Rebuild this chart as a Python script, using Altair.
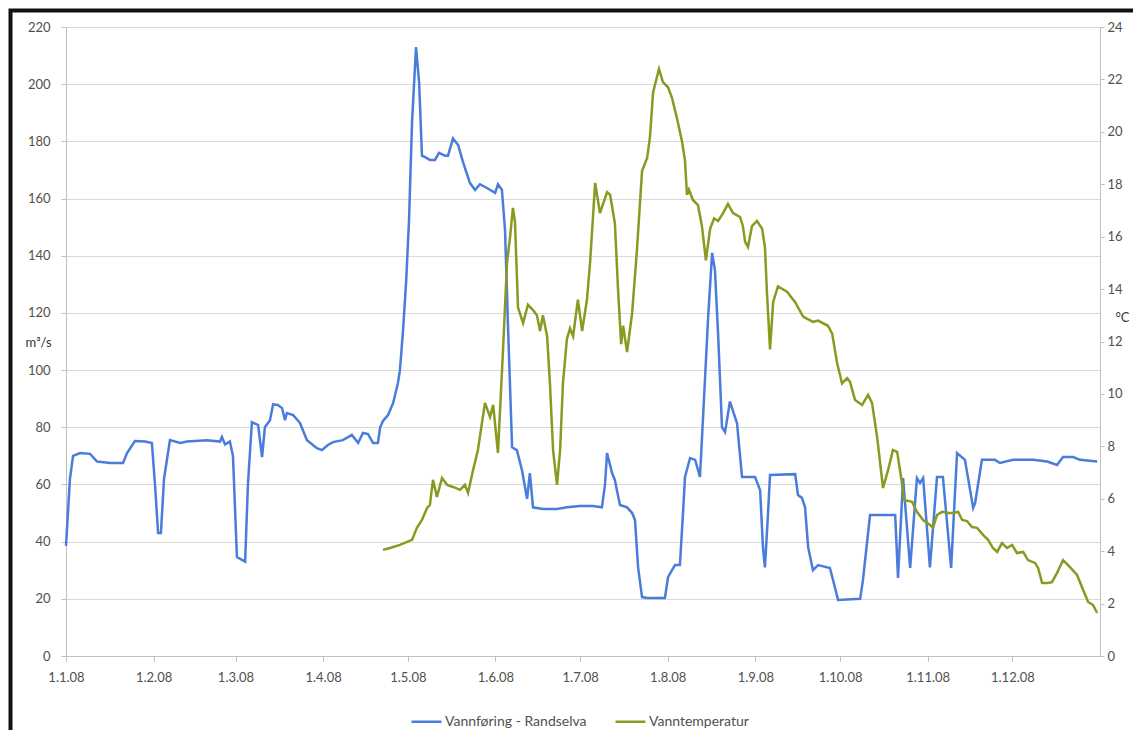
import altair as alt
import pandas as pd

FLOW_NAME = "Vannføring - Randselva"
TEMP_NAME = "Vanntemperatur"

# day offsets from 1 Jan 2008 and discharge (m3/s)
flow_day = [0, 1.4, 2.5, 5, 8.5, 11, 15.6, 20.2, 21.6, 24.4,
            28, 30.4, 31.5, 32.6, 33.6, 34.7, 36.8, 40.4, 42.8, 49.9,
            54.5, 55.2, 56.3, 58, 59.1, 60.5, 63.4, 64.4, 65.8, 68,
            69.4, 70.4, 72.2, 73.3, 75, 76.5, 77.5, 78.2, 80.4, 82.8,
            85.3, 88.8, 90.6, 92.7, 94.5, 98, 101.2, 103.4, 105.1, 106.9,
            108.7, 110.4, 111.2, 112.2, 114, 115.8, 117.5, 118.2, 119.3, 120.4,
            121.4, 122.5, 123.9, 125, 126, 127.1, 128.8, 130.6, 132, 134.2,
            135.2, 137, 138.8, 140.5, 143, 144.8, 146.5, 149, 151.9, 152.9,
            154.3, 155.4, 156.5, 157.9, 159.6, 161.4, 163.2, 164.2, 165.3, 168.8,
            173.8, 177.3, 181.9, 186.5, 189.7, 190.8, 191.5, 193.3, 194.3, 195,
            196.1, 198.6, 200.4, 201.4, 202.5, 203.9, 205.7, 212, 213.1, 214.5,
            215.6, 217.3, 218.4, 219.1, 220.9, 222.7, 224.4, 225.5, 227.3, 228.7,
            229.7, 230.8, 232.2, 233.3, 235, 237.5, 239.3, 243.9, 245.7, 246.7,
            247.4, 248.5, 249.2, 258.1, 259.1, 260.5, 261.6, 262.7, 264.4, 266.2,
            270.4, 271.5, 273.3, 281.1, 282.1, 284.6, 293.5, 294.5, 296.3, 298.8,
            301.2, 302.3, 303.4, 305.8, 308.3, 310.4, 313.3, 315.4, 318.2, 321.1,
            321.8, 324.2, 328.8, 330.6, 335.2, 342.3, 347.3, 350.8, 352.9, 356.5,
            358.9, 365]
flow_val = [38.5, 62, 70, 71, 70.7, 68, 67.5, 67.5, 71, 75.2,
            75, 74.5, 60, 43, 43, 62, 75.5, 74.5, 75, 75.5,
            75, 76.6, 74, 75, 70, 34.6, 33, 60, 81.8, 80.8,
            69.6, 80, 82.5, 88, 87.8, 86.7, 82.5, 85, 84.3, 81.5,
            75.5, 72.7, 72, 73.8, 74.8, 75.5, 77.3, 74.5, 78, 77.6,
            74.5, 74.5, 80, 82.2, 84.3, 88.5, 95.5, 100, 114, 131,
            152, 187, 213, 200.4, 175, 174.5, 173.5, 173.5, 176, 175,
            175, 181, 178.7, 172.8, 165.4, 163, 165, 163.7, 162, 165,
            163, 149, 114, 73, 72, 65, 55, 64, 52, 51.4,
            51.4, 52, 52.5, 52.5, 52, 60, 71, 64, 61.5, 58,
            52.8, 52, 50, 47.6, 31, 20.6, 20.3, 20.3, 27.6, 30,
            31.8, 31.8, 50, 62.6, 69.2, 68.6, 62.6, 83.6, 118.6, 141,
            135, 113, 80, 78.3, 89, 81.5, 62.6, 62.6, 58, 38,
            31, 50, 63.3, 63.6, 56.3, 55.3, 52, 38, 30, 31.8,
            30.8, 26.6, 19.6, 20, 26.6, 49.3, 49.3, 27.3, 62.2, 30.8,
            62.2, 60.5, 62.2, 31, 62.6, 62.6, 30.8, 71, 68.6, 51.8,
            53.5, 68.6, 68.6, 67.5, 68.6, 68.6, 68, 66.8, 69.6, 69.6,
            68.6, 68]

# day offsets and water temperature (deg C)
temp_day = [112.2, 114.7, 118.2, 122.5, 124.2, 126, 127.8, 128.8, 129.9, 131.3,
            133.1, 134.9, 137, 139.5, 141.2, 142.3, 144.1, 145.8, 148.3, 150.1,
            151.2, 152.9, 154.7, 156.1, 157.2, 158.2, 158.9, 160, 161.8, 163.5,
            165.3, 166.7, 167.8, 168.8, 170.3, 171.3, 172.4, 173.8, 174.9, 175.9,
            177.3, 178.4, 179.5, 181.2, 182.7, 184.4, 185.5, 187.3, 189, 191.5,
            192.6, 194.3, 195.4, 196.5, 197.2, 198.6, 200.4, 202.1, 203.9, 205.7,
            206.7, 207.8, 209.9, 211.3, 213.1, 214.5, 216.3, 218.1, 219.1, 219.8,
            220.5, 221.9, 223.7, 225.1, 226.5, 228, 229.4, 230.8, 232.6, 234.3,
            236.1, 238.6, 239.6, 240.4, 241.4, 242.8, 244.6, 246.4, 247.4, 248.1,
            249.2, 250.3, 252, 255.2, 258.1, 260.9, 264.4, 266.2, 269.7, 271.2,
            272.9, 274.7, 276.5, 277.5, 279.3, 281.8, 283.9, 285.3, 287.1, 289.2,
            291, 292.7, 294.2, 295.9, 296.6, 299.5, 301.2, 303.4, 305.8, 306.9,
            308.3, 310.1, 312.2, 314, 315.8, 317.2, 318.9, 320.7, 322.5, 324.6,
            326.4, 328.1, 329.6, 331.3, 333.1, 334.9, 336.6, 338.8, 340.5, 343,
            344.1, 345.5, 347.6, 349, 350.8, 352.9, 354.7, 357.9, 359.6, 361.8,
            363.5, 365]
temp_val = [4.05, 4.12, 4.24, 4.43, 4.89, 5.19, 5.65, 5.76, 6.72, 6.07,
            6.79, 6.53, 6.45, 6.34, 6.53, 6.22, 7.1, 7.86, 9.66, 9.12,
            9.58, 7.75, 11.7, 15.0, 16.0, 17.1, 16.6, 13.3, 12.7, 13.4,
            13.2, 13.0, 12.4, 13.0, 12.2, 10.4, 7.86, 6.53, 7.86, 10.4,
            12.1, 12.5, 12.2, 13.6, 12.4, 13.6, 15.0, 18.05, 16.9, 17.7,
            17.6, 16.5, 14.0, 11.9, 12.6, 11.6, 13.1, 15.5, 18.5, 19.0,
            19.8, 21.5, 22.4, 21.9, 21.7, 21.3, 20.5, 19.6, 18.9, 17.6,
            17.8, 17.4, 17.2, 16.4, 15.1, 16.3, 16.7, 16.6, 16.9, 17.25,
            16.9, 16.75, 16.4, 15.8, 15.6, 16.4, 16.6, 16.3, 15.6, 13.9,
            11.7, 13.5, 14.1, 13.9, 13.5, 12.95, 12.75, 12.8, 12.6, 12.3,
            11.2, 10.4, 10.6, 10.46, 9.77, 9.58, 9.96, 9.66, 8.36, 6.41,
            7.1, 7.86, 7.79, 6.6, 5.95, 5.88, 5.5, 5.19, 5.0, 4.89,
            5.38, 5.5, 5.46, 5.46, 5.5, 5.19, 5.15, 4.92, 4.89, 4.62,
            4.43, 4.12, 3.97, 4.31, 4.12, 4.24, 3.93, 3.97, 3.66, 3.55,
            3.36, 2.79, 2.79, 2.82, 3.17, 3.66, 3.47, 3.09, 2.63, 2.06,
            1.95, 1.64]

flow_ticks = list(range(0, 221, 20))
temp_ticks = list(range(0, 25, 2))
month_starts = [alt.DateTime(year=2008, month=m, date=1, utc=True) for m in range(1, 13)]

BLUE = "#4a7ddb"
GREEN = "#8a9a20"
FONT = "Lato"
LABEL_COLOR = "#505050"
AXIS_COLOR = "#bfbfbf"
GRID_COLOR = "#d9d9d9"

BASE = pd.Timestamp("2008-01-01")


def to_iso(days):
    return [(BASE + pd.Timedelta(days=d)).strftime("%Y-%m-%dT%H:%M:%SZ") for d in days]


flow_df = pd.DataFrame({"dato": to_iso(flow_day), "verdi": flow_val, "serie": FLOW_NAME})
temp_df = pd.DataFrame({"dato": to_iso(temp_day), "verdi": temp_val, "serie": TEMP_NAME})

x_enc = alt.X(
    "dato:T",
    scale=alt.Scale(type="utc", domain=[alt.DateTime(year=2008, month=1, date=1, utc=True),
                                        alt.DateTime(year=2009, month=1, date=1, utc=True)]),
    axis=alt.Axis(values=month_starts, labelExpr="utcFormat(datum.value, '%-d.%-m.%y')",
                  title=None, grid=False, tickSize=5, labelPadding=10, labelFlush=False,
                  domainColor=AXIS_COLOR, tickColor=AXIS_COLOR, labelColor=LABEL_COLOR,
                  labelFont=FONT, labelFontSize=13),
)

color_enc = alt.Color(
    "serie:N",
    scale=alt.Scale(domain=[FLOW_NAME, TEMP_NAME], range=[BLUE, GREEN]),
    legend=alt.Legend(title=None, orient="none", legendX=344, legendY=678,
                      direction="horizontal", symbolType="stroke", symbolSize=900,
                      symbolStrokeWidth=2.5, labelOffset=2, columnPadding=23,
                      labelFont=FONT, labelFontSize=14, labelColor=LABEL_COLOR,
                      padding=0),
)

flow = alt.Chart(flow_df).mark_line(strokeWidth=2.5).encode(
    x=x_enc,
    y=alt.Y("verdi:Q", scale=alt.Scale(domain=[0, 220], nice=False, zero=True),
            axis=alt.Axis(orient="left", values=flow_ticks, grid=True, gridColor=GRID_COLOR,
                          tickSize=5, labelPadding=11, domainColor=AXIS_COLOR,
                          tickColor=AXIS_COLOR, labelColor=LABEL_COLOR, labelFont=FONT,
                          labelFontSize=13, title="m³/s", titleAngle=0, titleX=-28,
                          titleY=315, titleAlign="center", titleBaseline="middle",
                          titleFont=FONT, titleFontSize=13, titleFontWeight="normal",
                          titleColor="#333333")),
    color=color_enc,
)

temp = alt.Chart(temp_df).mark_line(strokeWidth=2.5).encode(
    x=x_enc,
    y=alt.Y("verdi:Q", scale=alt.Scale(domain=[0, 24], nice=False, zero=True),
            axis=alt.Axis(orient="right", values=temp_ticks, grid=False,
                          tickSize=4, labelPadding=3, domainColor=AXIS_COLOR,
                          tickColor=AXIS_COLOR, labelColor=LABEL_COLOR, labelFont=FONT,
                          labelFontSize=13, title="°C", titleAngle=0, titleX=22,
                          titleY=290, titleAlign="center", titleBaseline="middle",
                          titleFont=FONT, titleFontSize=13, titleFontWeight="normal",
                          titleColor="#333333")),
    color=color_enc,
)

frame = alt.Chart(pd.DataFrame({"k": [0]})).mark_rect(
    fill="transparent", stroke="#111111", strokeWidth=4
).encode(
    x=alt.value(-55.5), x2=alt.value(1300), y=alt.value(-16.5), y2=alt.value(900)
)

chart = alt.layer(frame, flow, temp).resolve_scale(y="independent").properties(
    width=1034,
    height=629,
    padding={"left": 58, "top": 19, "right": 33, "bottom": 74},
    autosize=alt.AutoSizeParams(type="none"),
    background="white",
).configure_view(strokeWidth=0)

chart.save("out.html", embed_options={"renderer": "svg", "actions": False})
